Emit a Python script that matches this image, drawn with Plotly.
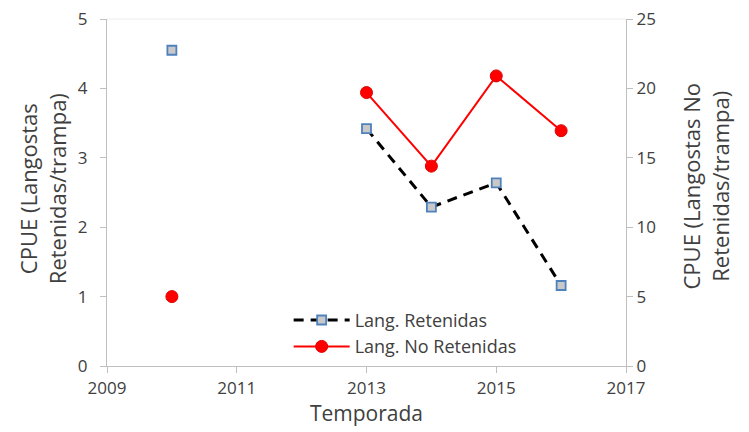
import plotly.graph_objects as go

years = [2010, 2011, 2012, 2013, 2014, 2015, 2016]
retenidas = [4.55, None, None, 3.42, 2.29, 2.64, 1.16]
no_retenidas = [5.0, None, None, 19.7, 14.4, 20.9, 16.95]

x_ticks = [2009, 2011, 2013, 2015, 2017]
y1_ticks = [0, 1, 2, 3, 4, 5]
y2_ticks = [0, 5, 10, 15, 20, 25]

font_family = "Open Sans, sans-serif"
txt = "#404040"
axc = "#bfbfbf"

fig = go.Figure()
fig.add_trace(go.Scatter(
    x=years, y=retenidas, name="Lang. Retenidas", mode="lines+markers",
    line=dict(color="black", width=3, dash="10px,7px"),
    marker=dict(symbol="square", size=9, color="#c8c8c8",
                line=dict(color="#4f81bd", width=1.8)),
    connectgaps=False, yaxis="y"))
fig.add_trace(go.Scatter(
    x=years, y=no_retenidas, name="Lang. No Retenidas", mode="lines+markers",
    line=dict(color="#ff0000", width=2),
    marker=dict(symbol="circle", size=12, color="#ff0000",
                line=dict(color="#e00000", width=1)),
    connectgaps=False, yaxis="y2"))

# page body has an 8px default margin, so the figure is sized/offset to compensate
fig.update_layout(
    width=741, height=424,
    margin=dict(l=99, r=123, t=11, b=66),
    paper_bgcolor="white", plot_bgcolor="white",
    font=dict(family=font_family, size=17, color=txt),
    showlegend=True,
    legend=dict(x=0.35, y=0.185, xanchor="left", yanchor="top",
                bgcolor="rgba(0,0,0,0)", font=dict(size=18, color=txt),
                tracegroupgap=0, itemwidth=56),
    xaxis=dict(range=[2009, 2017], tickvals=x_ticks, showgrid=False,
               showline=True, linecolor=axc, linewidth=1.3,
               ticks="outside", tickcolor=axc, ticklen=6, zeroline=False,
               ticklabeloverflow="allow", automargin=False,
               title=dict(text="Temporada", font=dict(size=21, color=txt), standoff=4)),
    yaxis=dict(range=[0, 5], tickvals=y1_ticks, showgrid=False,
               showline=True, linecolor=axc, linewidth=1.3,
               ticks="outside", tickcolor=axc, ticklen=6, zeroline=False,
               ticklabelstandoff=9, ticklabeloverflow="allow", automargin=False),
    yaxis2=dict(range=[0, 25], tickvals=y2_ticks, overlaying="y", side="right",
                showgrid=False, showline=True, linecolor=axc, linewidth=1.3,
                ticks="outside", tickcolor=axc, ticklen=6, zeroline=False,
                ticklabeloverflow="allow", automargin=False),
    shapes=[dict(type="line", xref="paper", yref="paper", x0=0, x1=1, y0=1, y1=1,
                 line=dict(color="#ececec", width=1))],
    annotations=[
        dict(text="CPUE (Langostas<br>Retenidas/trampa)", xref="paper", yref="paper",
             x=-0.125, y=0.51, xanchor="center", yanchor="middle", textangle=-90,
             showarrow=False, font=dict(size=22, color=txt)),
        dict(text="CPUE (Langostas No<br>Retenidas/trampa)", xref="paper", yref="paper",
             x=1.154, y=0.52, xanchor="center", yanchor="middle", textangle=-90,
             showarrow=False, font=dict(size=22, color=txt)),
    ],
)

fig.write_html("out.html")
